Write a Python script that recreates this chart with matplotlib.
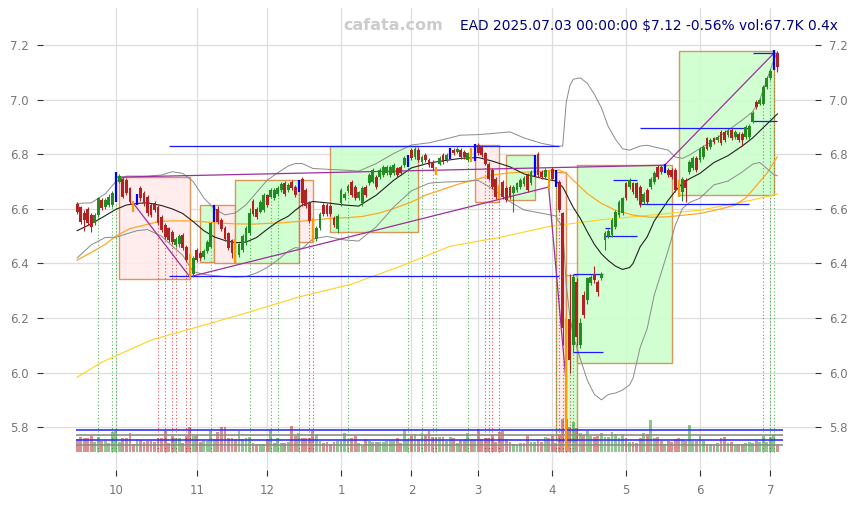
import numpy as np
import pandas as pd
import matplotlib
matplotlib.use("Agg")
import matplotlib.pyplot as plt
from matplotlib.patches import Rectangle

# ---------------- data ----------------
title_text = "EAD 2025.07.03 00:00:00 $7.12 -0.56% vol:67.7K 0.4x"
watermark = "cafata.com"
start_date, end_date = "2024-09-16", "2025-07-03"
holidays = ["2024-11-28", "2024-12-25", "2025-01-01", "2025-01-09", "2025-01-20",
            "2025-02-17", "2025-04-18", "2025-05-26", "2025-06-19"]

opens = [
    6.616, 6.607, 6.585, 6.600, 6.577, 6.547, 6.577, 6.632, 6.608, 6.615,
    6.614, 6.650, 6.700, 6.708, 6.705, 6.675, 6.626, 6.620, 6.675, 6.657,
    6.644, 6.614, 6.620, 6.608, 6.571, 6.540, 6.528, 6.516, 6.468, 6.470,
    6.504, 6.460, 6.430, 6.360, 6.450, 6.440, 6.425, 6.445, 6.460, 6.555,
    6.600, 6.560, 6.530, 6.510, 6.485, 6.460, 6.430, 6.450, 6.475, 6.510,
    6.630, 6.600, 6.590, 6.595, 6.650, 6.645, 6.640, 6.655, 6.670, 6.695,
    6.670, 6.700, 6.680, 6.665, 6.708, 6.670, 6.620, 6.560, 6.490, 6.530,
    6.615, 6.615, 6.610, 6.565, 6.525, 6.620, 6.640, 6.665, 6.700, 6.680,
    6.640, 6.620, 6.681, 6.693, 6.700, 6.717, 6.717, 6.724, 6.730, 6.724,
    6.730, 6.748, 6.754, 6.760, 6.760, 6.815, 6.790, 6.815, 6.772, 6.797,
    6.779, 6.772, 6.748, 6.766, 6.797, 6.779, 6.790, 6.815, 6.810, 6.815,
    6.809, 6.779, 6.815, 6.785, 6.834, 6.828, 6.803, 6.766, 6.742, 6.711,
    6.681, 6.699, 6.675, 6.681, 6.657, 6.669, 6.681, 6.690, 6.724, 6.693,
    6.730, 6.800, 6.736, 6.718, 6.736, 6.745, 6.736, 6.699, 6.583, 6.070,
    6.198, 6.100, 6.333, 6.100, 6.284, 6.266, 6.327, 6.363, 6.333, 6.345,
    6.485, 6.500, 6.504, 6.534, 6.577, 6.583, 6.693, 6.681, 6.693, 6.693,
    6.681, 6.625, 6.669, 6.681, 6.699, 6.754, 6.754, 6.736, 6.742, 6.742,
    6.742, 6.699, 6.662, 6.705, 6.735, 6.748, 6.785, 6.779, 6.790, 6.858,
    6.827, 6.858, 6.852, 6.882, 6.882, 6.870, 6.888, 6.864, 6.876, 6.876,
    6.864, 6.864, 6.920, 6.992, 6.986, 6.986, 7.047, 7.078, 7.114, 7.170,
]
closes = [
    6.589, 6.553, 6.560, 6.547, 6.534, 6.577, 6.638, 6.602, 6.632, 6.645,
    6.657, 6.700, 6.720, 6.644, 6.657, 6.626, 6.595, 6.650, 6.638, 6.620,
    6.583, 6.577, 6.595, 6.547, 6.522, 6.498, 6.485, 6.479, 6.490, 6.500,
    6.455, 6.412, 6.360, 6.420, 6.412, 6.420, 6.445, 6.480, 6.547, 6.600,
    6.550, 6.525, 6.490, 6.455, 6.440, 6.425, 6.470, 6.500, 6.530, 6.585,
    6.580, 6.570, 6.625, 6.650, 6.615, 6.670, 6.670, 6.675, 6.690, 6.655,
    6.687, 6.675, 6.650, 6.700, 6.620, 6.610, 6.555, 6.490, 6.530, 6.580,
    6.580, 6.580, 6.580, 6.540, 6.575, 6.670, 6.655, 6.685, 6.650, 6.640,
    6.660, 6.675, 6.650, 6.724, 6.742, 6.681, 6.742, 6.754, 6.754, 6.754,
    6.760, 6.724, 6.730, 6.785, 6.790, 6.785, 6.821, 6.779, 6.791, 6.779,
    6.760, 6.748, 6.736, 6.785, 6.772, 6.797, 6.815, 6.803, 6.820, 6.790,
    6.790, 6.803, 6.779, 6.830, 6.803, 6.797, 6.766, 6.711, 6.681, 6.644,
    6.644, 6.644, 6.632, 6.644, 6.681, 6.693, 6.705, 6.712, 6.669, 6.736,
    6.790, 6.724, 6.718, 6.742, 6.681, 6.711, 6.690, 6.595, 6.162, 5.960,
    6.045, 6.350, 6.131, 6.180, 6.211, 6.345, 6.350, 6.339, 6.296, 6.363,
    6.510, 6.520, 6.559, 6.590, 6.626, 6.638, 6.638, 6.705, 6.663, 6.638,
    6.614, 6.655, 6.626, 6.711, 6.730, 6.718, 6.736, 6.760, 6.724, 6.718,
    6.669, 6.650, 6.711, 6.675, 6.772, 6.785, 6.742, 6.821, 6.827, 6.821,
    6.852, 6.846, 6.864, 6.840, 6.852, 6.886, 6.858, 6.882, 6.852, 6.852,
    6.900, 6.903, 6.950, 6.974, 6.998, 7.047, 7.078, 7.106, 7.160, 7.120,
]
highs = [
    6.625, 6.612, 6.595, 6.605, 6.585, 6.585, 6.645, 6.640, 6.640, 6.655,
    6.665, 6.736, 6.728, 6.715, 6.712, 6.680, 6.630, 6.655, 6.682, 6.665,
    6.650, 6.620, 6.628, 6.615, 6.578, 6.548, 6.535, 6.522, 6.498, 6.507,
    6.510, 6.468, 6.435, 6.428, 6.458, 6.447, 6.452, 6.487, 6.553, 6.614,
    6.610, 6.568, 6.537, 6.515, 6.490, 6.490, 6.476, 6.507, 6.537, 6.602,
    6.636, 6.607, 6.632, 6.657, 6.656, 6.677, 6.677, 6.682, 6.697, 6.702,
    6.694, 6.706, 6.687, 6.705, 6.715, 6.677, 6.627, 6.566, 6.537, 6.587,
    6.622, 6.622, 6.617, 6.572, 6.582, 6.677, 6.662, 6.692, 6.707, 6.687,
    6.667, 6.682, 6.688, 6.731, 6.749, 6.724, 6.749, 6.761, 6.761, 6.761,
    6.767, 6.755, 6.761, 6.792, 6.797, 6.822, 6.828, 6.822, 6.798, 6.804,
    6.786, 6.779, 6.755, 6.792, 6.804, 6.804, 6.822, 6.822, 6.827, 6.822,
    6.816, 6.810, 6.822, 6.836, 6.840, 6.835, 6.810, 6.773, 6.749, 6.718,
    6.688, 6.706, 6.682, 6.688, 6.688, 6.700, 6.712, 6.719, 6.731, 6.743,
    6.797, 6.807, 6.743, 6.749, 6.743, 6.752, 6.743, 6.706, 6.590, 6.200,
    6.363, 6.360, 6.345, 6.200, 6.300, 6.352, 6.357, 6.390, 6.340, 6.370,
    6.517, 6.527, 6.566, 6.597, 6.633, 6.645, 6.700, 6.712, 6.700, 6.700,
    6.688, 6.662, 6.676, 6.718, 6.737, 6.761, 6.761, 6.765, 6.749, 6.749,
    6.749, 6.706, 6.718, 6.712, 6.779, 6.792, 6.792, 6.828, 6.834, 6.865,
    6.859, 6.865, 6.871, 6.889, 6.889, 6.893, 6.895, 6.889, 6.883, 6.883,
    6.907, 6.910, 6.957, 6.999, 7.005, 7.054, 7.085, 7.113, 7.182, 7.177,
]
lows = [
    6.580, 6.545, 6.520, 6.540, 6.515, 6.540, 6.570, 6.595, 6.600, 6.608,
    6.608, 6.626, 6.695, 6.638, 6.650, 6.618, 6.590, 6.615, 6.630, 6.612,
    6.575, 6.570, 6.588, 6.540, 6.515, 6.490, 6.478, 6.470, 6.462, 6.462,
    6.448, 6.405, 6.345, 6.352, 6.405, 6.412, 6.418, 6.440, 6.455, 6.550,
    6.545, 6.518, 6.482, 6.448, 6.420, 6.400, 6.424, 6.443, 6.468, 6.504,
    6.572, 6.562, 6.583, 6.588, 6.607, 6.638, 6.633, 6.648, 6.663, 6.648,
    6.663, 6.668, 6.643, 6.660, 6.612, 6.602, 6.547, 6.480, 6.483, 6.523,
    6.572, 6.572, 6.572, 6.532, 6.510, 6.612, 6.632, 6.658, 6.643, 6.632,
    6.633, 6.612, 6.643, 6.686, 6.693, 6.673, 6.710, 6.717, 6.723, 6.717,
    6.723, 6.717, 6.723, 6.753, 6.754, 6.778, 6.783, 6.772, 6.765, 6.772,
    6.753, 6.741, 6.725, 6.759, 6.765, 6.772, 6.783, 6.796, 6.803, 6.783,
    6.783, 6.772, 6.772, 6.775, 6.796, 6.790, 6.759, 6.704, 6.674, 6.637,
    6.637, 6.637, 6.625, 6.637, 6.590, 6.662, 6.674, 6.683, 6.662, 6.686,
    6.720, 6.717, 6.711, 6.711, 6.674, 6.704, 6.680, 6.588, 6.100, 5.720,
    5.997, 6.070, 6.100, 6.090, 6.200, 6.250, 6.320, 6.330, 6.280, 6.338,
    6.450, 6.493, 6.497, 6.527, 6.570, 6.576, 6.631, 6.674, 6.656, 6.631,
    6.607, 6.618, 6.619, 6.674, 6.692, 6.711, 6.729, 6.730, 6.717, 6.711,
    6.662, 6.643, 6.630, 6.625, 6.728, 6.741, 6.735, 6.772, 6.783, 6.814,
    6.820, 6.839, 6.845, 6.833, 6.845, 6.863, 6.851, 6.857, 6.845, 6.830,
    6.857, 6.857, 6.913, 6.967, 6.979, 6.979, 7.040, 7.071, 7.107, 7.100,
]
volumes_k = [
    125, 145, 135, 135, 162, 94, 145, 111, 111, 84,
    199, 212, 94, 135, 135, 185, 74, 125, 118, 94,
    111, 111, 94, 135, 135, 209, 91, 162, 135, 135,
    91, 162, 253, 162, 168, 101, 111, 111, 212, 125,
    195, 246, 246, 135, 135, 125, 212, 125, 135, 145,
    84, 74, 74, 74, 125, 224, 84, 135, 91, 91,
    101, 259, 158, 185, 135, 135, 135, 209, 178, 111,
    84, 94, 74, 94, 111, 111, 185, 111, 135, 162,
    84, 67, 125, 111, 94, 94, 94, 94, 111, 111,
    111, 135, 91, 218, 125, 158, 178, 125, 185, 168,
    209, 145, 145, 145, 145, 111, 145, 135, 91, 118,
    125, 185, 125, 125, 233, 125, 142, 142, 168, 94,
    202, 209, 125, 94, 74, 74, 84, 84, 168, 101,
    101, 125, 101, 145, 135, 168, 84, 168, 330, 330,
    253, 303, 236, 185, 168, 212, 158, 145, 158, 185,
    151, 145, 199, 178, 135, 178, 135, 101, 101, 84,
    135, 192, 178, 320, 135, 145, 111, 74, 111, 101,
    125, 135, 125, 111, 269, 111, 111, 158, 111, 74,
    74, 74, 84, 135, 145, 91, 94, 67, 74, 74,
    84, 101, 84, 111, 101, 158, 101, 145, 168, 67,
]

blue_candles = [11, 17, 39, 63, 94, 106, 113, 130, 136, 167, 198]
orange_candles = [16, 32, 45, 67, 102, 112, 120, 134, 139, 171]
buy_signals = [6, 10, 11, 38, 49, 55, 57, 63, 77, 94, 98, 101, 102, 111, 136, 141, 195, 197, 198]
sell_signals = [23, 25, 27, 28, 31, 32, 66, 67, 116, 117, 118, 120, 137, 138, 139, 140]

# indicator lines (index, value)
band_idx = [0, 4, 8, 11, 14, 17, 20, 24, 27, 30, 33, 36, 39, 42, 45, 48, 51, 54, 57, 60,
            62, 64, 67, 71, 76, 80, 85, 90, 95, 100, 104, 109, 114, 118, 123, 127, 132, 136, 138, 139,
            140, 141, 143, 145, 147, 149, 151, 153, 155, 157, 158, 160, 162, 164, 168, 170, 172, 174, 177, 181,
            185, 189, 192, 194, 196, 198, 199]
ma20 = [6.520, 6.545, 6.575, 6.598, 6.614, 6.620, 6.622, 6.612, 6.600, 6.583, 6.553, 6.520, 6.497, 6.484, 6.476, 6.478, 6.495, 6.525, 6.553, 6.573,
        6.595, 6.614, 6.627, 6.622, 6.614, 6.610, 6.650, 6.705, 6.750, 6.768, 6.776, 6.785, 6.788, 6.775, 6.754, 6.728, 6.712, 6.702, 6.680, 6.656,
        6.630, 6.605, 6.565, 6.516, 6.470, 6.435, 6.410, 6.390, 6.378, 6.385, 6.400, 6.461, 6.497, 6.555, 6.632, 6.665, 6.693, 6.710, 6.730, 6.770,
        6.795, 6.830, 6.860, 6.885, 6.910, 6.935, 6.948]
bb_upper = [6.620, 6.622, 6.655, 6.700, 6.720, 6.720, 6.720, 6.724, 6.736, 6.730, 6.700, 6.640, 6.600, 6.578, 6.585, 6.615, 6.660, 6.705, 6.732, 6.757,
            6.766, 6.766, 6.748, 6.745, 6.742, 6.738, 6.766, 6.803, 6.834, 6.842, 6.854, 6.870, 6.872, 6.876, 6.882, 6.860, 6.840, 6.830, 6.830, 6.990,
            7.050, 7.075, 7.080, 7.060, 7.020, 6.970, 6.900, 6.855, 6.820, 6.815, 6.820, 6.830, 6.833, 6.827, 6.815, 6.790, 6.785, 6.797, 6.821, 6.852,
            6.888, 6.925, 6.956, 7.000, 7.072, 7.145, 7.175]
bb_lower = [6.420, 6.468, 6.495, 6.496, 6.508, 6.520, 6.524, 6.500, 6.464, 6.430, 6.370, 6.360, 6.355, 6.352, 6.350, 6.352, 6.365, 6.385, 6.412, 6.445,
            6.458, 6.455, 6.490, 6.499, 6.486, 6.482, 6.534, 6.607, 6.666, 6.694, 6.698, 6.700, 6.704, 6.674, 6.626, 6.596, 6.584, 6.574, 6.530, 6.322,
            6.210, 6.135, 6.050, 5.972, 5.920, 5.900, 5.920, 5.925, 5.936, 5.955, 5.980, 6.092, 6.161, 6.283, 6.449, 6.540, 6.601, 6.623, 6.639, 6.688,
            6.702, 6.735, 6.764, 6.770, 6.748, 6.725, 6.721]
ma50_idx = [0, 4, 8, 11, 15, 19, 23, 27, 31, 35, 39, 45, 50, 58, 65, 72, 77, 81, 86, 90,
            95, 99, 104, 109, 114, 118, 123, 130, 137, 139, 141, 145, 149, 153, 158, 163, 168, 177, 183, 187,
            190, 192, 196, 199]
ma50 = [6.412, 6.440, 6.470, 6.500, 6.528, 6.540, 6.553, 6.556, 6.556, 6.554, 6.549, 6.545, 6.544, 6.549, 6.556, 6.565, 6.568, 6.572, 6.585, 6.601,
        6.625, 6.650, 6.672, 6.693, 6.710, 6.724, 6.732, 6.736, 6.742, 6.730, 6.705, 6.656, 6.620, 6.595, 6.577, 6.569, 6.571, 6.583, 6.600, 6.614,
        6.640, 6.669, 6.730, 6.791]
ma200_idx = [0, 7, 21, 35, 49, 63, 78, 92, 106, 120, 134, 149, 163, 177, 191, 199]
ma200 = [5.983, 6.038, 6.119, 6.170, 6.222, 6.277, 6.324, 6.390, 6.463, 6.495, 6.535, 6.560, 6.577, 6.595, 6.630, 6.654]

# pattern boxes: (start index, end index, low, high, kind)
boxes = [
    (12, 32, 6.342, 6.715, "down"), (35, 39, 6.406, 6.614, "up"), (39, 45, 6.400, 6.614, "down"),
    (45, 63, 6.400, 6.705, "up"), (63, 67, 6.479, 6.705, "down"), (72, 97, 6.514, 6.830, "up"),
    (113, 120, 6.626, 6.834, "down"), (122, 130, 6.632, 6.797, "up"), (136, 139, 5.753, 6.736, "down"),
    (139, 142, 5.753, 6.357, "up"), (142, 169, 6.034, 6.760, "up"), (171, 198, 6.650, 7.179, "up"),
]
# trend lines: (i0, v0, i1, v1)
trend_lines = [
    (11, 6.716, 167, 6.760), (167, 6.760, 198, 7.170), (16, 6.620, 32, 6.351),
    (32, 6.351, 134, 6.680), (134, 6.680, 139, 5.960),
]
# support / resistance levels: (i0, i1, value)
levels = [
    (26, 137, 6.830), (26, 137, 6.354), (141, 149.5, 6.360), (141, 149.5, 6.074),
    (152.4, 159.2, 6.705), (150, 159.2, 6.500), (150, 151.5, 6.528), (160, 191, 6.617),
    (160, 191, 6.898), (192, 199, 6.922), (192, 198.3, 7.170),
]
vol_levels_k = [216, 166, 115, 65]
vol_level_colors = ["#3333ff", "#8c8c8c", "#3333ff", "#8c8c8c"]

# ---------------- layout ----------------
VOL_BASE = 5.7097
VOL_SCALE = 0.000363  # price units per 1K volume
UP, DOWN = "#228b22", "#b22222"

dates = pd.bdate_range(start_date, end_date, freq="C", holidays=holidays)
n = len(closes)
dates = dates[:n]
x = np.arange(n)

fig = plt.figure(figsize=(8.58, 5.05), dpi=100)
ax = fig.add_axes([43 / 858, 1 - 470 / 505, (815 - 43) / 858, (470 - 8) / 505])
ax.set_xlim(-9.7, 209.7)
ax.set_ylim(5.643, 7.336)
for s in ax.spines.values():
    s.set_visible(False)
ax.set_axisbelow(True)
ax.grid(True, color="#dddddd", lw=0.9)

# boxes
for i0, i1, lo, hi, kind in boxes:
    fc = "#ffeaea" if kind == "down" else "#ccffcc"
    ax.add_patch(Rectangle((i0, lo), i1 - i0, hi - lo, facecolor=fc, edgecolor="#d98b4a",
                           lw=1.0, alpha=0.9, zorder=1))

# indicators
ax.plot(ma200_idx, ma200, color="#ffd21f", lw=0.8, zorder=2)
ax.plot(ma50_idx, ma50, color="#ffa726", lw=0.9, zorder=2)
ax.plot(band_idx, bb_upper, color="#8a8a8a", lw=0.7, zorder=2)
ax.plot(band_idx, bb_lower, color="#8a8a8a", lw=0.7, zorder=2)
ax.plot(band_idx, ma20, color="#222222", lw=0.8, zorder=2)

# volume
o = np.array(opens); c = np.array(closes); h = np.array(highs); l = np.array(lows)
v = np.array(volumes_k, dtype=float)
up = c >= o
vcol = np.where(up, UP, DOWN)
ax.bar(x, v * VOL_SCALE, bottom=VOL_BASE, width=0.8, color=vcol, alpha=0.5, zorder=2, lw=0)
for lvl, col in zip(vol_levels_k, vol_level_colors):
    ax.hlines(VOL_BASE + lvl * VOL_SCALE, -0.4, n + 0.5, color=col, lw=1.2, zorder=3)

# signals
for i in buy_signals:
    ax.vlines(i, VOL_BASE, l[i], color="#2ca02c", lw=0.8, linestyles=(0, (1, 2)), zorder=1.5, alpha=0.8)
for i in sell_signals:
    ax.vlines(i, VOL_BASE, l[i], color="#d62728", lw=0.8, linestyles=(0, (1, 2)), zorder=1.5, alpha=0.8)

# trend lines and levels
for i0, v0, i1, v1 in trend_lines:
    ax.plot([i0, i1], [v0, v1], color="#9b309b", lw=0.9, zorder=3)
for i0, i1, val in levels:
    ax.hlines(val, i0, i1, color="#1a1aff", lw=0.9, zorder=3)

# candles
special = set(blue_candles) | set(orange_candles)
norm = np.array([i not in special for i in x])
col = np.where(up, UP, DOWN)
ax.vlines(x[norm], l[norm], h[norm], color=col[norm], lw=0.8, zorder=4)
body = np.maximum(np.abs(c - o), 0.003)
ax.bar(x[norm], body[norm], bottom=np.minimum(o, c)[norm], width=0.8, color=col[norm], lw=0, zorder=4)
bi = np.array(blue_candles); oi = np.array(orange_candles)
ax.vlines(bi, l[bi], h[bi], color="#0000ff", lw=1.6, zorder=5)
ax.vlines(oi, l[oi], h[oi], color="#ff9900", lw=1.6, zorder=5)

# ticks
month = dates.month
first = [i for i in range(1, n) if month[i] != month[i - 1]]
ax.set_xticks(first)
ax.set_xticklabels([str(month[i]) for i in first])
yt = np.round(np.arange(5.8, 7.21, 0.2), 1)
ax.set_yticks(yt)
ax.set_yticklabels([f"{t:.1f}" for t in yt])
ax.tick_params(axis="x", length=4, color="#333333", labelcolor="#777777", labelsize=8.5, pad=6)
ax.tick_params(axis="y", length=4, color="#333333", labelcolor="#777777", labelsize=8.5,
               left=True, right=True, labelleft=True, labelright=True, pad=6)

fig.text(838 / 858, 1 - 26 / 505, title_text, ha="right", va="center", color="#000080", fontsize=9.9)
fig.text(393 / 858, 1 - 26 / 505, watermark, ha="center", va="center", color="#cccccc",
         fontsize=11.5, fontweight="bold")

fig.savefig("out.png", dpi=100)
